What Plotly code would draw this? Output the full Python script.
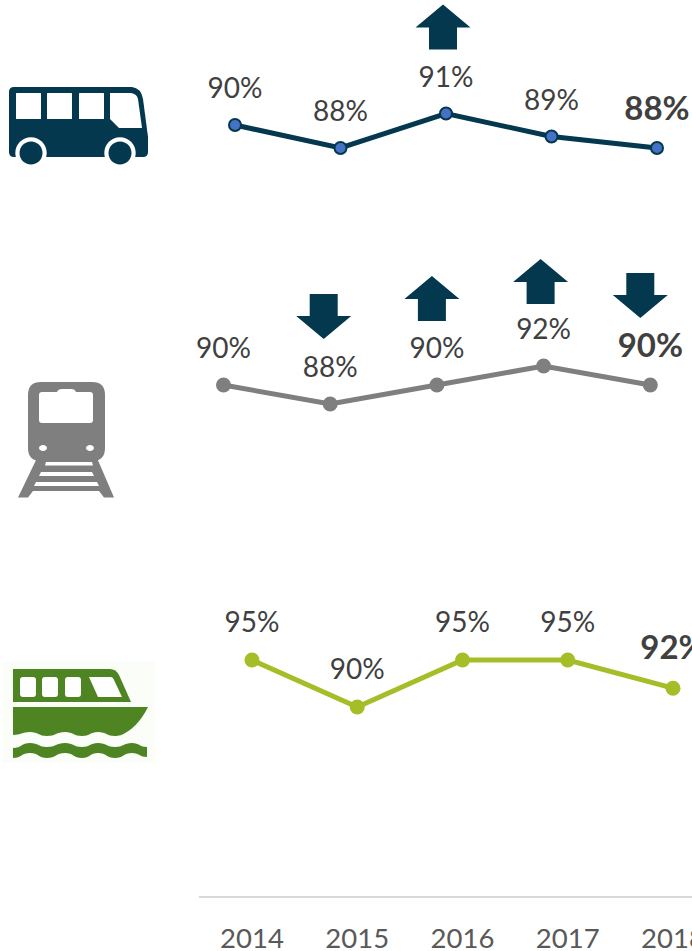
import re
import plotly.graph_objects as go

YEARS = [2014, 2015, 2016, 2017, 2018]
BUS = [90, 88, 91, 89, 88]
TRAIN = [90, 88, 90, 92, 90]
BOAT = [95, 90, 95, 95, 92]
TICKS = ["2014", "2015", "2016", "2017", "2018"]
BUS_ARROWS = {2016: "up"}
TRAIN_ARROWS = {2015: "down", 2016: "up", 2017: "up", 2018: "down"}

W, H = 692, 951
NAVY = "#03384E"
GRAY = "#7F7F7F"
LIME = "#A5BD26"
GREEN = "#4F8423"
TXT = "#404040"
FONT = "Lato"

fig = go.Figure()
panels = [
    dict(vals=BUS, x0=235, dx=105.5, ref=90, refpx=125, sc=11.5, top=0, bot=240,
         line=NAVY, lw=5, ms=12, mc="#4472C4", mlc=NAVY, mlw=2, gap=30),
    dict(vals=TRAIN, x0=223.5, dx=106.7, ref=90, refpx=385, sc=9.5, top=250, bot=520,
         line=GRAY, lw=5, ms=15, mc=GRAY, mlc=GRAY, mlw=0, gap=30),
    dict(vals=BOAT, x0=252, dx=105.25, ref=95, refpx=660, sc=9.4, top=600, bot=896,
         line=LIME, lw=5, ms=15, mc=LIME, mlc=LIME, mlw=0, gap=32),
]
layout = {}
for i, p in enumerate(panels, 1):
    sfx = "" if i == 1 else str(i)
    L, R = 199, W
    xr = [YEARS[0] + (L - p["x0"]) / p["dx"], YEARS[0] + (R - p["x0"]) / p["dx"]]
    yr = [p["ref"] + (p["refpx"] - p["bot"]) / p["sc"], p["ref"] + (p["refpx"] - p["top"]) / p["sc"]]
    text = [f"{v}%" if j < 4 else f"<b>{v}%</b>" for j, v in enumerate(p["vals"])]
    fig.add_trace(go.Scatter(
        x=YEARS, y=p["vals"], xaxis="x" + sfx, yaxis="y" + sfx, mode="lines+markers",
        line=dict(color=p["line"], width=p["lw"]),
        marker=dict(size=p["ms"], color=p["mc"], line=dict(color=p["mlc"], width=p["mlw"])),
        cliponaxis=False, showlegend=False, hoverinfo="skip"))
    # labels: a transparent marker sets how far each label stands above its point
    fig.add_trace(go.Scatter(
        x=YEARS, y=p["vals"], xaxis="x" + sfx, yaxis="y" + sfx, mode="markers+text",
        marker=dict(size=p["gap"], color="rgba(0,0,0,0)"),
        text=text, textposition="top center",
        textfont=dict(family=FONT, color=TXT, size=[28, 28, 28, 28, 33]),
        cliponaxis=False, showlegend=False, hoverinfo="skip"))
    is_last = i == 3
    layout["xaxis" + sfx] = dict(
        domain=[L / W, 1], range=xr, anchor="y" + sfx, tickmode="array", tickvals=YEARS,
        ticktext=TICKS, visible=is_last, showgrid=False, zeroline=False, automargin=False,
        showline=is_last, linecolor="#D9D9D9", linewidth=2,
        ticks="outside", ticklen=17, tickcolor="rgba(0,0,0,0)", ticklabeloverflow="allow",
        tickfont=dict(family=FONT, size=27.5, color="#595959"))
    layout["yaxis" + sfx] = dict(
        domain=[1 - p["bot"] / H, 1 - p["top"] / H], range=yr, anchor="x" + sfx,
        visible=False, showgrid=False, zeroline=False, automargin=False)

shapes = []


def arrow(year, value, axis, direction, dx_off, dy_top):
    # block arrow anchored on a data point, sized in pixels; dy_top = px from the point to the arrow's top
    hw, sw, hh, tot = 27.5, 14, 23, 45
    t = dy_top
    b = t - tot
    c = dx_off
    if direction == "up":
        pts = [(c, t), (c + hw, t - hh), (c + sw, t - hh), (c + sw, b), (c - sw, b), (c - sw, t - hh), (c - hw, t - hh)]
    else:
        pts = [(c - sw, t), (c + sw, t), (c + sw, b + hh), (c + hw, b + hh), (c, b), (c - hw, b + hh), (c - sw, b + hh)]
    path = "M " + " L ".join(f"{x} {y}" for x, y in pts) + " Z"
    shapes.append(dict(type="path", xref=axis[0], yref=axis[1], xsizemode="pixel", ysizemode="pixel",
                       xanchor=year, yanchor=value, path=path, fillcolor=NAVY, line=dict(width=0)))


arrow_offsets = {("bus", 2016): (-3, 109),
                 ("train", 2015): (-6.5, 110), ("train", 2016): (-5, 109),
                 ("train", 2017): (-3, 107), ("train", 2018): (-10, 112)}
for yr_, d in BUS_ARROWS.items():
    off = arrow_offsets[("bus", yr_)]
    arrow(yr_, BUS[YEARS.index(yr_)], ("x", "y"), d, off[0], off[1])
for yr_, d in TRAIN_ARROWS.items():
    off = arrow_offsets[("train", yr_)]
    arrow(yr_, TRAIN[YEARS.index(yr_)], ("x2", "y2"), d, off[0], off[1])


def icon(path, color):
    # path written in screen pixels; anchored to the page's top-left corner
    toks = re.findall(r"[MLCQZ]|-?\d+\.?\d*", path)
    out, isx = [], True
    for t in toks:
        if t.isalpha():
            out.append(t)
            isx = True
        else:
            out.append(t if isx else str(-float(t)))
            isx = not isx
    shapes.append(dict(type="path", xref="paper", yref="paper", xsizemode="pixel", ysizemode="pixel",
                       xanchor=0, yanchor=1, path=" ".join(out), fillcolor=color, line=dict(width=0)))


def circle(cx, cy, rx, ry, color):
    k = 0.5523
    icon(f"M {cx-rx} {cy} C {cx-rx} {cy-k*ry} {cx-k*rx} {cy-ry} {cx} {cy-ry} "
         f"C {cx+k*rx} {cy-ry} {cx+rx} {cy-k*ry} {cx+rx} {cy} "
         f"C {cx+rx} {cy+k*ry} {cx+k*rx} {cy+ry} {cx} {cy+ry} "
         f"C {cx-k*rx} {cy+ry} {cx-rx} {cy+k*ry} {cx-rx} {cy} Z", color)


def rrect(x0, y0, x1, y1, r, color):
    icon(f"M {x0+r} {y0} L {x1-r} {y0} Q {x1} {y0} {x1} {y0+r} L {x1} {y1-r} Q {x1} {y1} {x1-r} {y1} "
         f"L {x0+r} {y1} Q {x0} {y1} {x0} {y1-r} L {x0} {y0+r} Q {x0} {y0} {x0+r} {y0} Z", color)


def wave(pts):
    # smooth segments with level tangents through the listed crests and troughs
    s = ""
    for (a, b), (c, d) in zip(pts, pts[1:]):
        m = (a + c) / 2
        s += f"C {m} {b} {m} {d} {c} {d} "
    return s


# bus
icon("M 14 87 L 132 87 Q 141 88 143 99 L 148 137 L 148 152 Q 148 157 143 157 L 14 157 Q 9 157 9 152 L 9 92 Q 9 87 14 87 Z", NAVY)
for a, b in [(16, 41), (47, 72), (79, 104)]:
    rrect(a, 93, b, 119, 0.5, "white")
icon("M 110 93 L 131 93 Q 137 94 138 99 L 142 128 L 119 128 L 110 119 Z", "white")
for cx in (31, 120):
    circle(cx, 153, 15.7, 15.7, "white")
    circle(cx, 153, 11.5, 11.5, NAVY)

# train
icon("M 18 497.5 L 37 458 L 97 458 L 114 497.5 L 104 497.5 L 99 491 L 33 491 L 28 497.5 Z", GRAY)
icon("M 46 462 L 92 462 L 93 465.5 L 45 465.5 Z", "white")
icon("M 41 472 L 92 472 L 94 476 L 39 476 Z", "white")
icon("M 36 482 L 97 482 L 99 486 L 34 486 Z", "white")
rrect(28, 382, 105, 461, 13, GRAY)
icon("M 42 392 L 57 392 Q 58 389 62 389 L 71 389 Q 75 389 76 392 L 90 392 Q 93 392 93 395 L 93 420 Q 93 423 90 423 "
     "L 42 423 Q 39 423 39 420 L 39 395 Q 39 392 42 392 Z", "white")
circle(43, 448, 4, 3, "white")
circle(90, 448, 4, 3, "white")

# boat
rrect(2, 662, 155, 763, 0, "#FBFDF9")
icon("M 13 669 L 110 669 Q 116 669 119 675 L 131 702 L 13 702 Z", GREEN)
for a, b in [(20, 36), (42, 58), (65, 81)]:
    rrect(a, 677, b, 697, 3, "white")
icon("M 89 677 L 111 677 Q 113 677 114 680 L 122 697 L 98 697 Z", "white")
hull_w = [(120, 735.5), (115, 736), (98, 732), (82, 736), (65, 732), (47, 736), (30, 732), (13, 735)]
icon("M 13 707 L 148 707 Q 137 729 120 735.5 " + wave(hull_w) + "Z", GREEN)
top_w = [(13, 748), (30, 743), (47, 747), (65, 743), (82, 747), (98, 743), (115, 747), (132, 743), (147, 747)]
bot_w = [(147, 757), (132, 753), (115, 758), (98, 753), (82, 758), (65, 753), (47, 758), (30, 753), (13, 758)]
icon("M 13 748 " + wave(top_w) + "L 147 757 " + wave(bot_w) + "Z", GREEN)

fig.update_layout(width=W, height=H, margin=dict(l=0, r=0, t=0, b=0), paper_bgcolor="white",
                  plot_bgcolor="white", showlegend=False, shapes=shapes, **layout)
fig.write_html("out.html", config={"displayModeBar": False},
               post_script="document.body.style.margin='0';document.documentElement.style.overflow='hidden';")
